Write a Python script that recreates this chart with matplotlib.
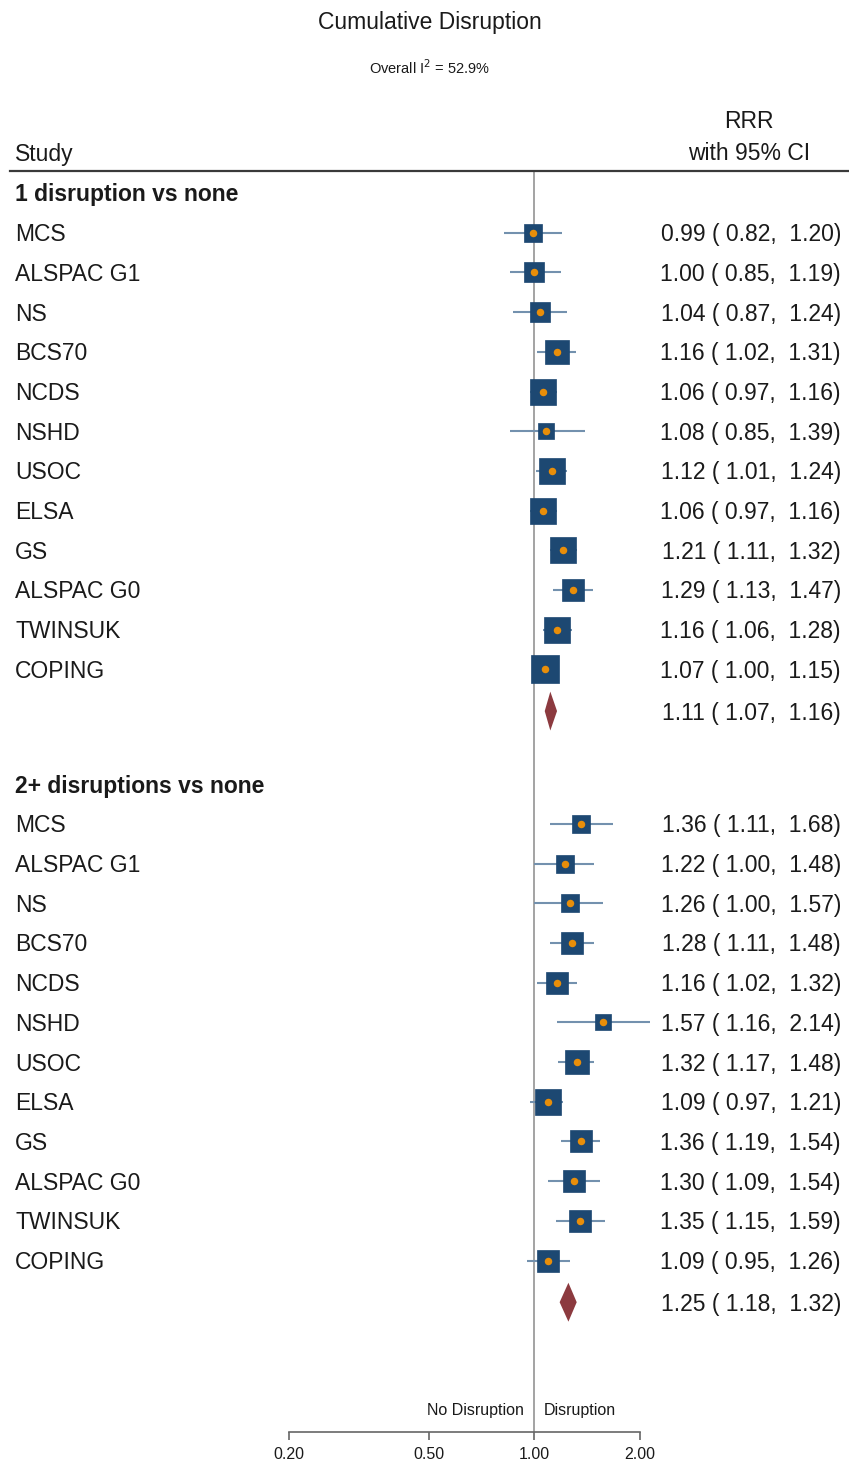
import numpy as np
import matplotlib.pyplot as plt
import matplotlib.transforms as mtrans
from matplotlib.lines import Line2D

plt.rcParams['font.family'] = ['Liberation Sans', 'DejaVu Sans']

# data
studies = ["MCS", "ALSPAC G1", "NS", "BCS70", "NCDS", "NSHD", "USOC",
           "ELSA", "GS", "ALSPAC G0", "TWINSUK", "COPING"]
groups = ["1 disruption vs none", "2+ disruptions vs none"]

g1_est = [0.99, 1.00, 1.04, 1.16, 1.06, 1.08, 1.12, 1.06, 1.21, 1.29, 1.16, 1.07]
g1_lo = [0.82, 0.85, 0.87, 1.02, 0.97, 0.85, 1.01, 0.97, 1.11, 1.13, 1.06, 1.00]
g1_hi = [1.20, 1.19, 1.24, 1.31, 1.16, 1.39, 1.24, 1.16, 1.32, 1.47, 1.28, 1.15]
g1_wt = [5.5, 6.1, 6.1, 8.8, 10.4, 4.4, 9.6, 10.4, 10.4, 7.4, 9.6, 11.2]
g1_pool = [1.11, 1.07, 1.16]

g2_est = [1.36, 1.22, 1.26, 1.28, 1.16, 1.57, 1.32, 1.09, 1.36, 1.30, 1.35, 1.09]
g2_lo = [1.11, 1.00, 1.00, 1.11, 1.02, 1.16, 1.17, 0.97, 1.19, 1.09, 1.15, 0.95]
g2_hi = [1.68, 1.48, 1.57, 1.48, 1.32, 2.14, 1.48, 1.21, 1.54, 1.54, 1.59, 1.26]
g2_wt = [5.5, 5.5, 5.5, 7.4, 8.1, 3.5, 8.8, 9.6, 8.1, 6.8, 6.8, 7.4]
g2_pool = [1.25, 1.18, 1.32]

xticks = [0.2, 0.5, 1.0, 2.0]
xtick_labels = ["0.20", "0.50", "1.00", "2.00"]

# colours
c_box = '#1d4872'
c_dot = '#e88e0a'
c_ci = '#7391ae'
c_dia = '#8c3a3f'
c_txt = '#1a1a1a'

W, H = 849, 1465
fig = plt.figure(figsize=(W / 100, H / 100), dpi=100)


def fx(px):
    return px / W


def fy(py):
    return 1 - py / H


row_top, row_step = 193, 39.7   # pixel y of first row and spacing
ax_top, ax_bot = 171, 1432
ax = fig.add_axes([fx(289.3), fy(ax_bot), (640 - 289.3) / W, (ax_bot - ax_top) / H])
ax.set_xscale('log')
ax.set_xlim(0.2, 2.0)
ax.set_ylim((ax_bot - row_top) / row_step, (ax_top - row_top) / row_step)
ax.set_facecolor('none')

rowtr = mtrans.blended_transform_factory(fig.transFigure, ax.transData)
tdy = 0.05  # nudge text down a touch so it sits on the marker centre

ax.axvline(1.0, color='#8a8a8a', lw=1.1, zorder=1)

fs = 16.5
group_data = [(g1_est, g1_lo, g1_hi, g1_wt, g1_pool),
              (g2_est, g2_lo, g2_hi, g2_wt, g2_pool)]
offsets = [0, 14.89]
k = 8.07 * 0.72  # box side (points) per sqrt(weight)

for gname, off, (est, lo, hi, wt, pool) in zip(groups, offsets, group_data):
    fig.text(fx(15), off + tdy, gname, transform=rowtr, ha='left', va='center',
             fontsize=fs, fontweight='bold', color=c_txt)
    for i, s in enumerate(studies):
        y = off + i + 1
        ax.plot([lo[i], hi[i]], [y, y], color=c_ci, lw=1.5, solid_capstyle='butt',
                zorder=2, clip_on=False)
        ax.plot(est[i], y, marker='s', ms=k * np.sqrt(wt[i]), color=c_box,
                mec=c_box, mew=0.5, zorder=3, clip_on=False)
        ax.plot(est[i], y, marker='o', ms=5.4, color=c_dot, mec=c_dot, mew=0,
                zorder=4, clip_on=False)
        fig.text(fx(15), y + tdy, s, transform=rowtr, ha='left', va='center',
                 fontsize=fs, color=c_txt)
        fig.text(fx(841), y + tdy, f"{est[i]:.2f} ( {lo[i]:.2f},  {hi[i]:.2f})",
                 transform=rowtr, ha='right', va='center', fontsize=fs, color=c_txt)
    yp = off + 13.05
    pe, pl, ph = pool
    ax.fill([pl, pe, ph, pe], [yp, yp - 0.49, yp, yp + 0.49], color=c_dia,
            lw=0, zorder=3)
    fig.text(fx(841), yp + tdy, f"{pe:.2f} ( {pl:.2f},  {ph:.2f})",
             transform=rowtr, ha='right', va='center', fontsize=fs, color=c_txt)

# axis styling
for sp in ['top', 'left', 'right']:
    ax.spines[sp].set_visible(False)
ax.spines['bottom'].set_color('#666666')
ax.spines['bottom'].set_linewidth(1.2)
ax.set_xticks(xticks)
ax.set_xticklabels(xtick_labels)
ax.minorticks_off()
ax.tick_params(axis='x', direction='out', length=6, width=1.2, color='#666666',
               labelsize=11.5, pad=4.5, labelcolor=c_txt)
ax.set_yticks([])

# header
fig.text(fx(430), fy(23), "Cumulative Disruption", ha='center', va='center',
         fontsize=16.5, color=c_txt)
fig.text(fx(430), fy(68), r"Overall I$^{2}$ = 52.9%", ha='center', va='center',
         fontsize=10.5, color=c_txt)
fig.text(fx(15), fy(154), "Study", ha='left', va='center', fontsize=fs, color=c_txt)
fig.text(fx(749), fy(122), "RRR", ha='center', va='center', fontsize=fs, color=c_txt)
fig.text(fx(749), fy(154), "with 95% CI", ha='center', va='center', fontsize=fs, color=c_txt)
fig.add_artist(Line2D([fx(10), fx(849)], [fy(171), fy(171)], color='#3a3a3a', lw=1.6))

# direction labels
fig.text(fx(524), fy(1411), "No Disruption", ha='right', va='center',
         fontsize=11.5, color=c_txt)
fig.text(fx(544), fy(1411), "Disruption", ha='left', va='center',
         fontsize=11.5, color=c_txt)

fig.savefig('out.png', dpi=100)
